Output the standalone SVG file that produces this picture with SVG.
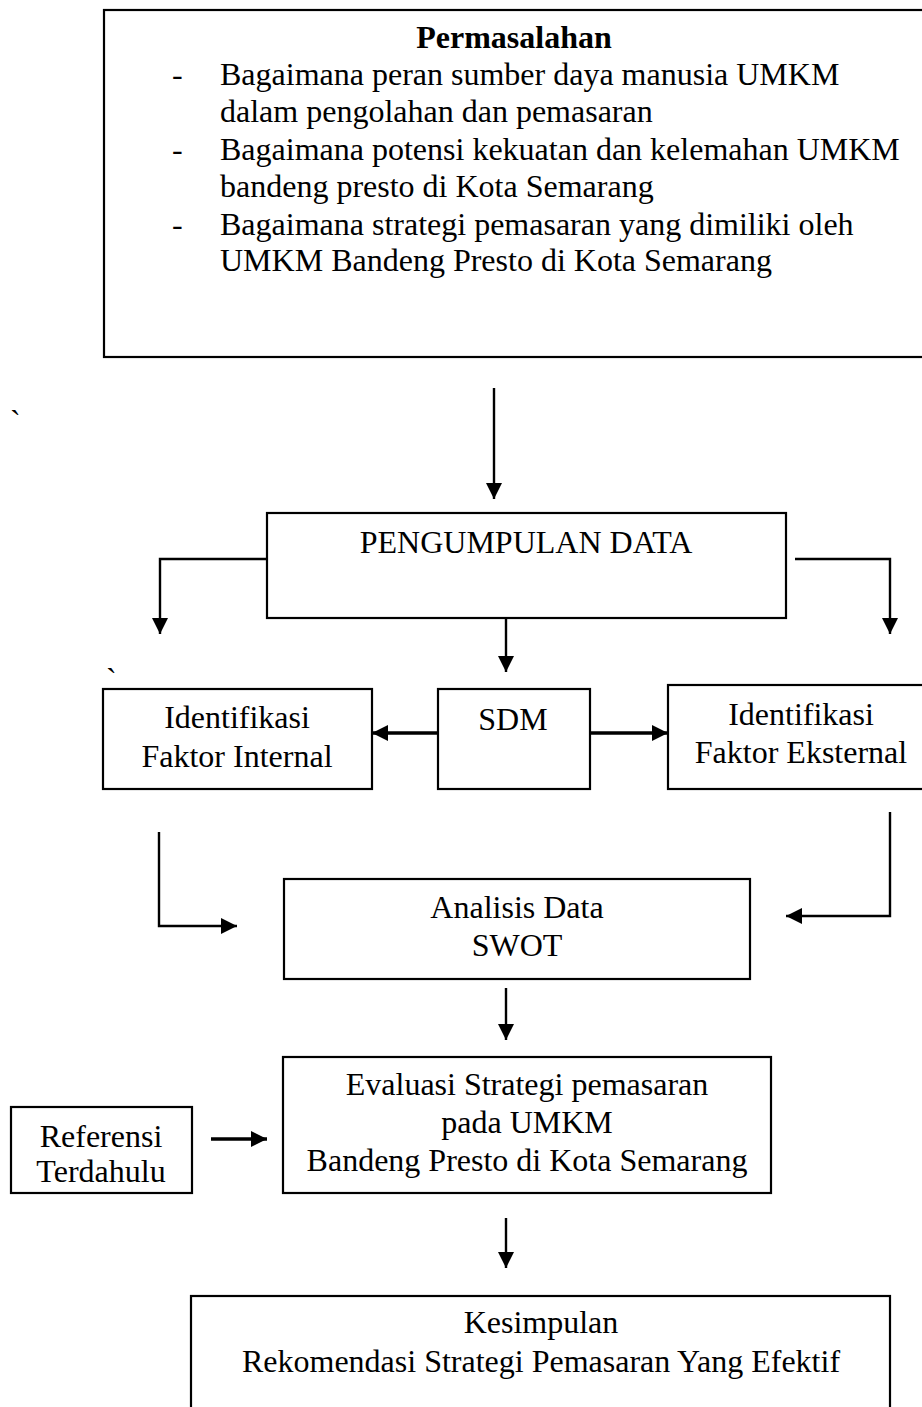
<svg xmlns="http://www.w3.org/2000/svg" width="922" height="1407" viewBox="0 0 922 1407">
<style>
.box{fill:#fff;stroke:#000;stroke-width:2.2}
.t{font-family:"Liberation Serif","Times New Roman",serif;font-size:32px;fill:#000}
.c{text-anchor:middle}
.b{font-weight:bold}
.ln{fill:none;stroke:#000;stroke-width:2.4}
.thk{fill:none;stroke:#000;stroke-width:3.5}
</style>
<defs>
<marker id="ah" markerUnits="userSpaceOnUse" markerWidth="16" markerHeight="16" refX="16" refY="8" orient="auto">
<path d="M0,0 L16,8 L0,16 z" fill="#000"/>
</marker>
</defs>
<rect width="922" height="1407" fill="#fff"/>
<g id="permasalahan">
<rect class="box" x="104" y="10" width="830" height="347"/>
<text class="t c b" x="514" y="48">Permasalahan</text>
<text class="t" x="172" y="85">-</text>
<text class="t" x="220" y="85">Bagaimana peran sumber daya manusia UMKM</text>
<text class="t" x="220" y="122">dalam pengolahan dan pemasaran</text>
<text class="t" x="172" y="160">-</text>
<text class="t" x="220" y="160">Bagaimana potensi kekuatan dan kelemahan UMKM</text>
<text class="t" x="220" y="197">bandeng presto di Kota Semarang</text>
<text class="t" x="172" y="235">-</text>
<text class="t" x="220" y="235">Bagaimana strategi pemasaran yang dimiliki oleh</text>
<text class="t" x="220" y="271">UMKM Bandeng Presto di Kota Semarang</text>
</g>
<text class="t" x="10" y="432">`</text>
<text class="t" x="106" y="690">`</text>
<g id="pengumpulan">
<rect class="box" x="267" y="513" width="519" height="105"/>
<text class="t c" x="526" y="553">PENGUMPULAN DATA</text>
</g>
<g id="internal">
<rect class="box" x="103" y="689" width="269" height="100"/>
<text class="t c" x="237" y="728">Identifikasi</text>
<text class="t c" x="237" y="767">Faktor Internal</text>
</g>
<g id="sdm">
<rect class="box" x="438" y="689" width="152" height="100"/>
<text class="t c" x="513" y="730">SDM</text>
</g>
<g id="eksternal">
<rect class="box" x="668" y="685" width="262" height="104"/>
<text class="t c" x="801" y="725">Identifikasi</text>
<text class="t c" x="801" y="763">Faktor Eksternal</text>
</g>
<g id="analisis">
<rect class="box" x="284" y="879" width="466" height="100"/>
<text class="t c" x="517" y="918">Analisis Data</text>
<text class="t c" x="517" y="956">SWOT</text>
</g>
<g id="evaluasi">
<rect class="box" x="283" y="1057" width="488" height="136"/>
<text class="t c" x="527" y="1095">Evaluasi Strategi pemasaran</text>
<text class="t c" x="527" y="1133">pada UMKM</text>
<text class="t c" x="527" y="1171">Bandeng Presto di Kota Semarang</text>
</g>
<g id="referensi">
<rect class="box" x="11" y="1107" width="181" height="86"/>
<text class="t c" x="101" y="1147">Referensi</text>
<text class="t c" x="101" y="1182">Terdahulu</text>
</g>
<g id="kesimpulan">
<rect class="box" x="191" y="1296" width="699" height="130"/>
<text class="t c" x="541" y="1333">Kesimpulan</text>
<text class="t c" x="541" y="1372">Rekomendasi Strategi Pemasaran Yang Efektif</text>
</g>
<g id="connectors">
<path class="ln" d="M494,388 V499" marker-end="url(#ah)"/>
<path class="ln" d="M267,559 H160 V634" marker-end="url(#ah)"/>
<path class="ln" d="M795,559 H890 V634" marker-end="url(#ah)"/>
<path class="ln" d="M506,618 V672" marker-end="url(#ah)"/>
<path class="thk" d="M438,733 H372" marker-end="url(#ah)"/>
<path class="thk" d="M590,733 H668" marker-end="url(#ah)"/>
<path class="ln" d="M159,832 V926 H237" marker-end="url(#ah)"/>
<path class="ln" d="M890,812 V916 H786" marker-end="url(#ah)"/>
<path class="ln" d="M506,988 V1040" marker-end="url(#ah)"/>
<path class="thk" d="M211,1139 H267" marker-end="url(#ah)"/>
<path class="ln" d="M506,1218 V1268" marker-end="url(#ah)"/>
</g>
</svg>
